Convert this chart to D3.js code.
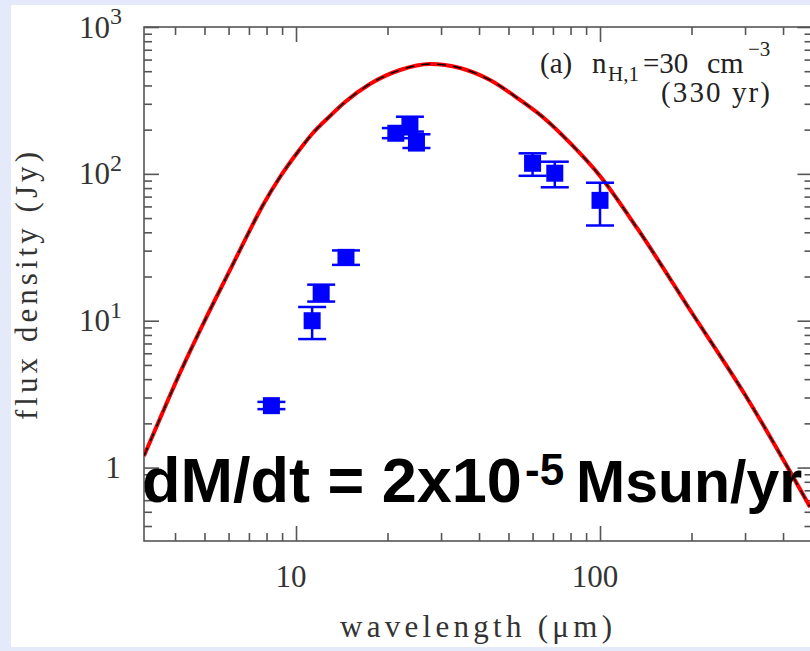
<!DOCTYPE html>
<html>
<head>
<meta charset="utf-8">
<script src="https://cdn.jsdelivr.net/npm/d3@7/dist/d3.min.js"></script>
<style>
  html, body { margin: 0; padding: 0; background: #e5eafb; }
  svg { display: block; }
</style>
</head>
<body>
<svg id="chart" width="810" height="651"></svg>
<script>
// Observed flux densities (Jy) with lower / upper error limits
const obsWavelength = [8.3, 11.3, 12.1, 14.6, 21.3, 23.7, 24.9, 60, 71, 100];
const obsFlux       = [2.64, 10.0, 15.4, 27.0, 189, 215, 162, 118, 101, 66];
const obsFluxLow    = [2.5, 7.5, 13.5, 24.0, 175, 194, 150, 97, 81, 44.5];
const obsFluxHigh   = [2.8, 12.4, 17.6, 30.1, 205, 245, 186, 138, 121, 87];

// Model SED (wavelength in micron, flux in Jy)
const modelWavelength = [3.162, 3.624, 4.153, 5.02, 6.07, 6.90, 7.79, 8.86, 10.08, 11.37, 12.94, 14.50,
                         17.51, 21.99, 27.60, 34.63, 43.47, 54.56, 65.93, 79.68, 100, 132.3, 197.8, 304.5, 490.8];
const modelFlux       = [1.20, 2.32, 4.41, 10.1, 22.2, 37.8, 61.4, 95.2, 138.7, 189.8, 247.8, 308.5,
                         409.3, 509.6, 560, 526, 435.6, 318.5, 236.5, 162.3, 96.7, 42.8, 11.83, 2.98, 0.539];

const xMajorTicks = [10, 100];
const xMinorTicks = [4, 5, 6, 7, 8, 9, 20, 30, 40, 50, 60, 70, 80, 90, 200, 300, 400];
const yMajorTicks = [1, 10, 100, 1000];
const yMinorTicks = [0.4, 0.5, 0.6, 0.7, 0.8, 0.9, 2, 3, 4, 5, 6, 7, 8, 9,
                     20, 30, 40, 50, 60, 70, 80, 90, 200, 300, 400, 500, 600, 700, 800, 900];
const yTickLabels = [
  { v: 1, base: "1", exp: null },
  { v: 10, base: "10", exp: "1" },
  { v: 100, base: "10", exp: "2" },
  { v: 1000, base: "10", exp: "3" }
];
const xTickLabels = [{ v: 10, text: "10" }, { v: 100, text: "100" }];

const svg = d3.select("#chart");
const W = 810, H = 651;

// white panel
svg.append("rect").attr("x", 11).attr("y", 5).attr("width", W - 11).attr("height", 642)
  .attr("fill", "#ffffff");

const pLeft = 144, pRight = 812.5, pTop = 27, pBottom = 541;
const x = d3.scaleLog().domain([Math.sqrt(10), 500]).range([pLeft, pRight]);
const y = d3.scaleLog().domain([1 / Math.sqrt(10), 1000]).range([pBottom, pTop]);

const axisColor = "#555";
const serif = "'Liberation Serif', 'Times New Roman', serif";

const g = svg.append("g");

// frame
g.append("rect").attr("x", pLeft).attr("y", pTop).attr("width", pRight - pLeft).attr("height", pBottom - pTop)
  .attr("fill", "none").attr("stroke", axisColor).attr("stroke-width", 1.6);

// axes built from d3 axis generators, ticks drawn inward
function drawAxis(gen, transform) {
  const a = g.append("g").attr("transform", transform).call(gen);
  a.select(".domain").remove();
  a.selectAll("line").attr("stroke", axisColor).attr("stroke-width", 1.6);
  a.selectAll("text").remove();
}
const majLen = 15, minLen = 8;
drawAxis(d3.axisBottom(x).tickValues(xMajorTicks).tickSize(-majLen), `translate(0,${pBottom})`);
drawAxis(d3.axisBottom(x).tickValues(xMinorTicks).tickSize(-minLen), `translate(0,${pBottom})`);
drawAxis(d3.axisTop(x).tickValues(xMajorTicks).tickSize(-majLen), `translate(0,${pTop})`);
drawAxis(d3.axisTop(x).tickValues(xMinorTicks).tickSize(-minLen), `translate(0,${pTop})`);
drawAxis(d3.axisLeft(y).tickValues(yMajorTicks).tickSize(-majLen), `translate(${pLeft},0)`);
drawAxis(d3.axisLeft(y).tickValues(yMinorTicks).tickSize(-minLen), `translate(${pLeft},0)`);
drawAxis(d3.axisRight(y).tickValues(yMajorTicks).tickSize(-majLen), `translate(${pRight},0)`);
drawAxis(d3.axisRight(y).tickValues(yMinorTicks).tickSize(-minLen), `translate(${pRight},0)`);

// y tick labels (powers of ten)
const labColor = "#333";
yTickLabels.forEach(d => {
  const t = svg.append("text").attr("font-family", serif).attr("font-size", 31).attr("fill", labColor)
    .attr("y", y(d.v) + 10.5);
  if (d.exp === null) {
    t.attr("x", 113).attr("text-anchor", "middle").text(d.base);
  } else {
    t.attr("x", 110).attr("text-anchor", "end").text(d.base);
    svg.append("text").attr("font-family", serif).attr("font-size", 24).attr("fill", labColor)
      .attr("x", 110).attr("y", y(d.v) - 3).text(d.exp);
  }
});

// x tick labels
xTickLabels.forEach(d => {
  svg.append("text").attr("font-family", serif).attr("font-size", 31).attr("fill", labColor)
    .attr("x", x(d.v) - 5).attr("y", 587).attr("text-anchor", "middle").text(d.text);
});

// axis titles
svg.append("text").attr("font-family", serif).attr("font-size", 31).attr("fill", labColor)
  .attr("x", 340).attr("y", 637).attr("textLength", 272).attr("lengthAdjust", "spacing")
  .text("wavelength (\u03BCm)");
svg.append("text").attr("font-family", serif).attr("font-size", 31).attr("fill", labColor)
  .attr("transform", "translate(37,420) rotate(-90)")
  .attr("textLength", 268).attr("lengthAdjust", "spacing")
  .text("flux density (Jy)");

// panel annotation
const annColor = "#222";
function ann(txt, xp, yp, size, len) {
  const t = svg.append("text").attr("font-family", serif).attr("font-size", size).attr("fill", annColor)
    .attr("x", xp).attr("y", yp).text(txt);
  if (len) t.attr("textLength", len).attr("lengthAdjust", "spacing");
}
ann("(a)", 540, 73, 29);
ann("n", 592, 73, 29);
ann("H,1", 608, 81, 21);
ann("=30", 643, 73, 29);
ann("cm", 707, 73, 30);
ann("\u22123", 748, 56, 21);
ann("(330 yr)", 661, 102, 29, 109);

// clip for plot content
svg.append("clipPath").attr("id", "plotclip").append("rect")
  .attr("x", pLeft).attr("y", pTop).attr("width", pRight - pLeft).attr("height", pBottom - pTop);

const model = modelWavelength.map((w, i) => [w, modelFlux[i]]);
const line = d3.line().x(d => x(d[0])).y(d => y(d[1])).curve(d3.curveMonotoneX);
const plot = svg.append("g").attr("clip-path", "url(#plotclip)");
plot.append("path").datum(model).attr("d", line).attr("fill", "none")
  .attr("stroke", "#ff0000").attr("stroke-width", 4);
plot.append("path").datum(model).attr("d", line).attr("fill", "none")
  .attr("stroke", "#000").attr("stroke-width", 1.5).attr("stroke-dasharray", "9,7");

// observations: error bars + squares
const obs = obsWavelength.map((w, i) => ({ w, f: obsFlux[i], lo: obsFluxLow[i], hi: obsFluxHigh[i] }));
const blue = "#0000ff";
const cap = 14, sq = 17;
const og = svg.append("g");
obs.forEach(d => {
  const cx = x(d.w);
  og.append("line").attr("x1", cx).attr("x2", cx).attr("y1", y(d.lo)).attr("y2", y(d.hi))
    .attr("stroke", blue).attr("stroke-width", 2.5);
  [d.lo, d.hi].forEach(v => {
    og.append("line").attr("x1", cx - cap).attr("x2", cx + cap).attr("y1", y(v)).attr("y2", y(v))
      .attr("stroke", blue).attr("stroke-width", 2.5);
  });
  og.append("rect").attr("x", cx - sq / 2).attr("y", y(d.f) - sq / 2).attr("width", sq).attr("height", sq)
    .attr("fill", blue);
});

// mass-loss rate caption
const sans = "'Liberation Sans', Arial, sans-serif";
function capText(txt, xp, yp, size) {
  return svg.append("text").attr("font-family", sans).attr("font-weight", "bold").attr("font-size", size)
    .attr("fill", "#000").attr("x", xp).attr("y", yp).text(txt);
}
capText("dM/dt = 2x10", 142, 502, 63);
capText("-5", 525, 485, 44);
capText("Msun/yr", 576, 502, 59);
</script>
</body>
</html>
